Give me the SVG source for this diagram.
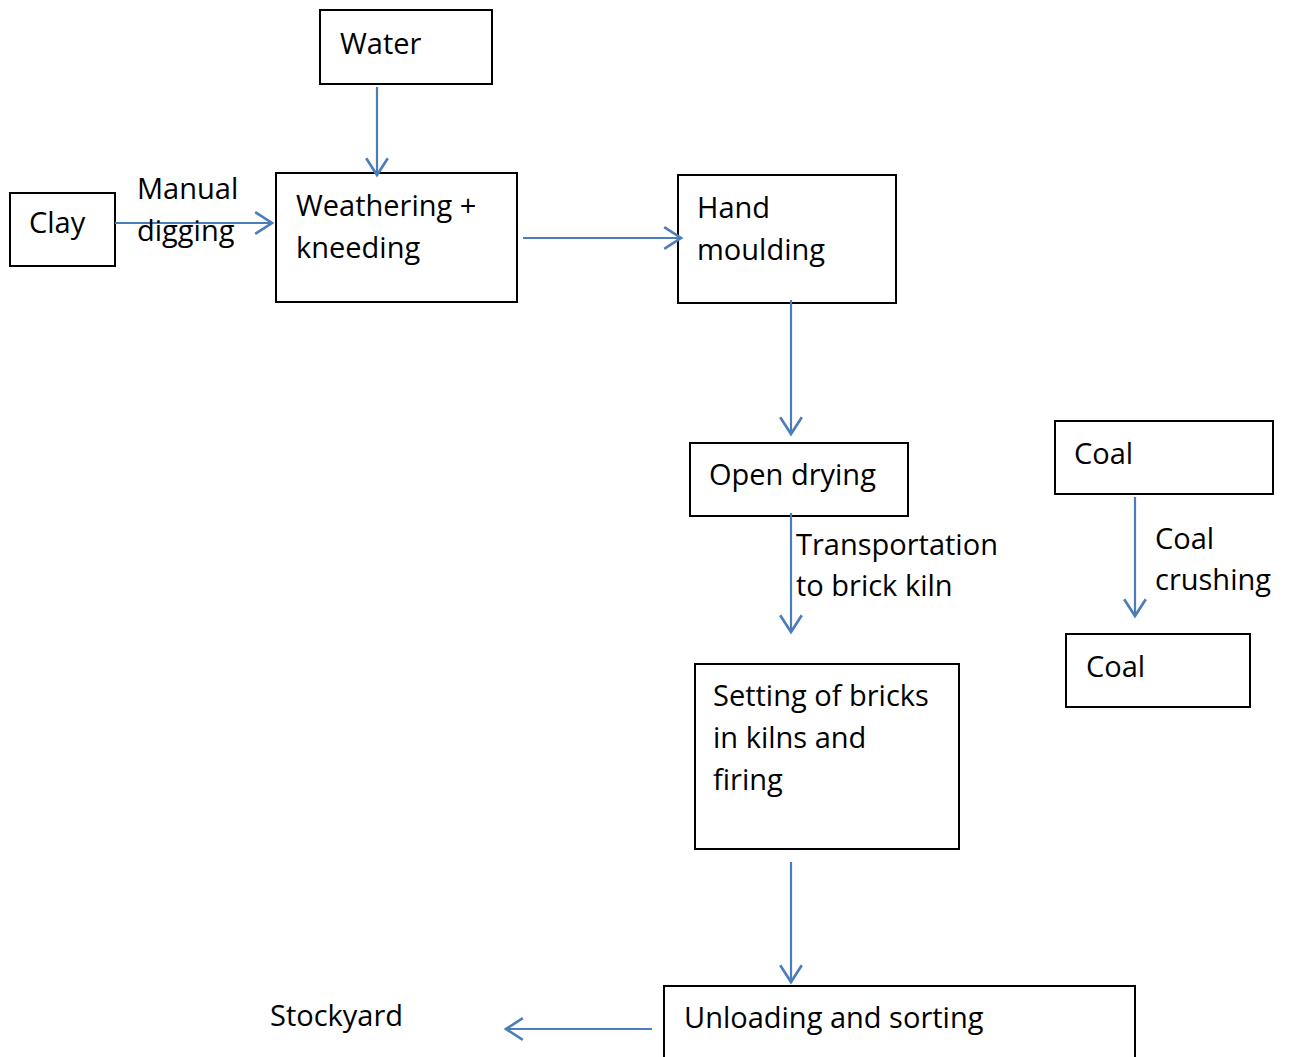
<svg xmlns="http://www.w3.org/2000/svg" width="1290" height="1057" viewBox="0 0 1290 1057">
<style>
.box{fill:#fff;stroke:#000;stroke-width:2}
.t{font-family:"Open Sans","Liberation Sans",sans-serif;font-size:29px;fill:#000}
.c{stroke:#4a7ebb;stroke-width:2.2;fill:none;marker-end:url(#ah)}
</style>
<defs>
<marker id="ah" markerUnits="userSpaceOnUse" markerWidth="24" markerHeight="24" viewBox="-16 -10 18 20" refX="0" refY="0" orient="auto">
<path d="M-14,-9 L0,0 L-14,9" fill="none" stroke="#4a7ebb" stroke-width="2.2"/>
</marker>
</defs>
<rect width="1290" height="1057" fill="#fff"/>
<g id="water"><rect class="box" x="320" y="10" width="172" height="74"/><text class="t" x="340" y="54">Water</text></g>
<g id="clay"><rect class="box" x="10" y="193" width="105" height="73"/><text class="t" x="29" y="233">Clay</text></g>
<g id="weathering"><rect class="box" x="276" y="173" width="241" height="129"/><text class="t" x="296" y="216">Weathering +</text><text class="t" x="296" y="258">kneeding</text></g>
<g id="hand"><rect class="box" x="678" y="175" width="218" height="128"/><text class="t" x="697" y="218">Hand</text><text class="t" x="697" y="260">moulding</text></g>
<g id="drying"><rect class="box" x="690" y="443" width="218" height="73"/><text class="t" x="709" y="485">Open drying</text></g>
<g id="coal1"><rect class="box" x="1055" y="421" width="218" height="73"/><text class="t" x="1074" y="464">Coal</text></g>
<g id="coal2"><rect class="box" x="1066" y="634" width="184" height="73"/><text class="t" x="1086" y="677">Coal</text></g>
<g id="setting"><rect class="box" x="695" y="664" width="264" height="185"/><text class="t" x="713" y="706">Setting of bricks</text><text class="t" x="713" y="748">in kilns and</text><text class="t" x="713" y="790">firing</text></g>
<g id="unloading"><rect class="box" x="664" y="986" width="471" height="80"/><text class="t" x="684" y="1028">Unloading and sorting</text></g>
<g id="stockyard"><text class="t" x="270" y="1026">Stockyard</text></g>
<g id="connectors">
<line class="c" x1="377" y1="87" x2="377" y2="175"/>
<line class="c" x1="115" y1="223" x2="272" y2="223"/>
<line class="c" x1="523" y1="238" x2="681" y2="238"/>
<line class="c" x1="791" y1="300" x2="791" y2="434"/>
<line class="c" x1="791" y1="513" x2="791" y2="632"/>
<line class="c" x1="1135" y1="497" x2="1135" y2="616"/>
<line class="c" x1="791" y1="862" x2="791" y2="982"/>
<line class="c" x1="652" y1="1029" x2="506" y2="1029"/>
</g>
<g id="labels">
<text class="t" x="137" y="199">Manual</text>
<text class="t" x="137" y="241">digging</text>
<text class="t" x="796" y="555">Transportation</text>
<text class="t" x="796" y="596">to brick kiln</text>
<text class="t" x="1155" y="549">Coal</text>
<text class="t" x="1155" y="590">crushing</text>
</g>
</svg>
